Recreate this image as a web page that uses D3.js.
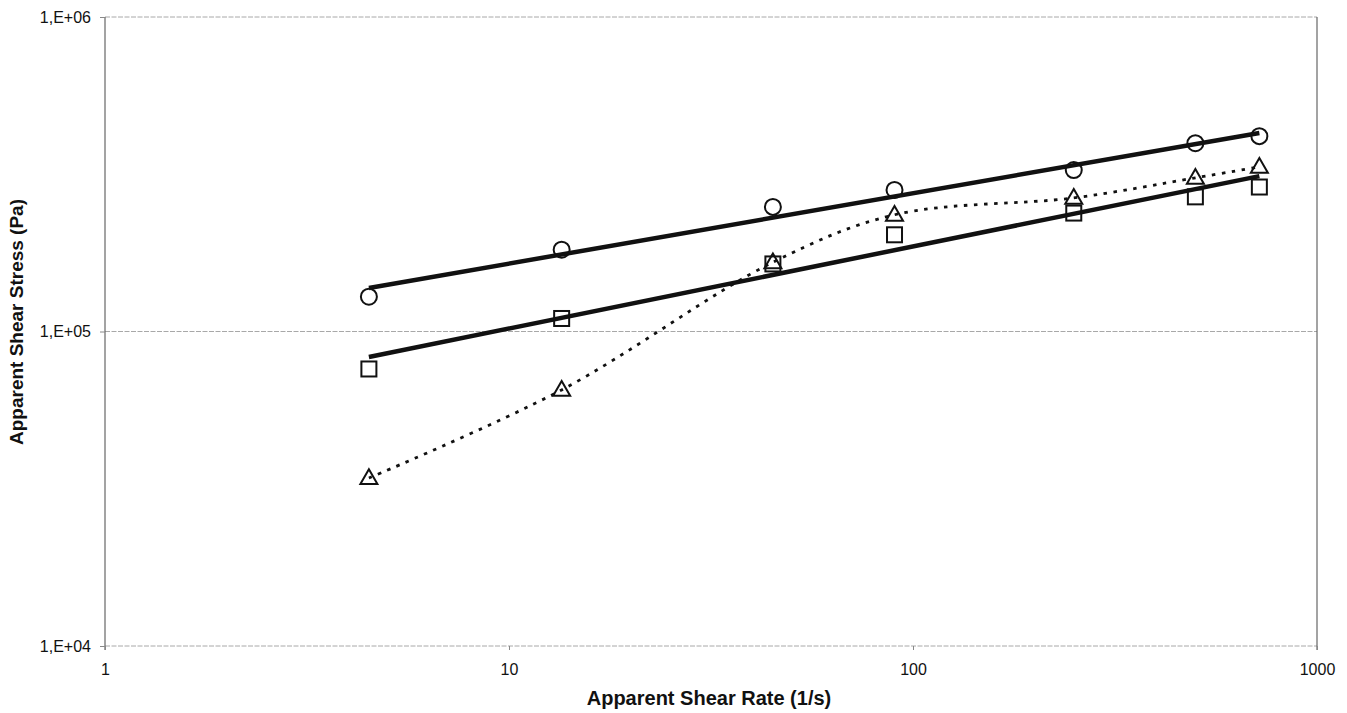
<!DOCTYPE html>
<html>
<head>
<meta charset="utf-8">
<script src="https://cdn.jsdelivr.net/npm/d3@7"></script>
<style>
  body { margin: 0; background: #fff; }
  svg { font-family: "Liberation Sans", Arial, sans-serif; }
</style>
</head>
<body>
<svg id="chart" width="1347" height="713"></svg>
<script>
// shear rates (1/s)
var shearRate = [4.5, 13.5, 45, 90, 250, 500, 720];
// measured stress (Pa), three samples
var circleStress = [129000, 182000, 249000, 282000, 326000, 397000, 418000];
var squareStress = [76000, 110000, 164000, 203000, 238000, 268000, 288000];
var triangleStress = [34200, 65200, 166000, 235000, 266000, 308000, 334000];
// power-law trend lines, read at first and last shear rate
var trendRate = [4.5, 720];
var circleTrend = [137500, 428000];
var squareTrend = [83000, 312000];

var xTicks = [1, 10, 100, 1000];
var yTicks = [1e4, 1e5, 1e6];
var yTickLabels = ["1,E+04", "1,E+05", "1,E+06"];

var svg = d3.select("#chart");
var plotLeft = 105, plotRight = 1317, plotTop = 17, plotBottom = 646;

var xScale = d3.scaleLog().domain([1, 1000]).range([plotLeft, plotRight]);
var yScale = d3.scaleLog().domain([1e4, 1e6]).range([plotBottom, plotTop]);

// gridlines
svg.append("g").selectAll("line").data(yTicks).enter().append("line")
    .attr("x1", plotLeft).attr("x2", plotRight)
    .attr("y1", d => yScale(d)).attr("y2", d => yScale(d))
    .attr("stroke", "#a8a8a8").attr("stroke-width", 1)
    .attr("stroke-dasharray", "5,1.5");

// plot sides
svg.append("line").attr("x1", plotLeft).attr("x2", plotLeft).attr("y1", plotTop).attr("y2", plotBottom + 4)
    .attr("stroke", "#666").attr("stroke-width", 1.2);
svg.append("line").attr("x1", plotRight).attr("x2", plotRight).attr("y1", plotTop).attr("y2", plotBottom + 4)
    .attr("stroke", "#666").attr("stroke-width", 1.2);

// axes
var xAxis = d3.axisBottom(xScale).tickValues(xTicks).tickFormat(d3.format("d")).tickSize(4).tickPadding(14);
var gx = svg.append("g").attr("transform", "translate(0," + plotBottom + ")").call(xAxis);
gx.select(".domain").remove();
gx.selectAll(".tick line").attr("stroke", "#888");
gx.selectAll("text").attr("font-size", 16).attr("fill", "#111").attr("font-family", "Liberation Sans, Arial, sans-serif");

var yAxis = d3.axisLeft(yScale).tickValues(yTicks).tickFormat((d, i) => yTickLabels[i]).tickSize(5).tickPadding(9);
var gy = svg.append("g").attr("transform", "translate(" + plotLeft + ",0)").call(yAxis);
gy.select(".domain").remove();
gy.selectAll(".tick line").attr("stroke", "#888");
gy.selectAll("text").attr("font-size", 16).attr("fill", "#111").attr("font-family", "Liberation Sans, Arial, sans-serif");

// titles
svg.append("text").attr("x", (plotLeft + plotRight) / 2 - 2).attr("y", 705)
    .attr("text-anchor", "middle").attr("font-size", 20).attr("font-weight", "bold")
    .attr("fill", "#111").text("Apparent Shear Rate (1/s)");
svg.append("text").attr("transform", "translate(23,322) rotate(-90)")
    .attr("text-anchor", "middle").attr("font-size", 19).attr("font-weight", "bold")
    .attr("fill", "#111").text("Apparent Shear Stress (Pa)");

var line = d3.line().x(d => xScale(d[0])).y(d => yScale(d[1]));

// trend lines
[circleTrend, squareTrend].forEach(function (t) {
    svg.append("path")
        .attr("d", line(trendRate.map((r, i) => [r, t[i]])))
        .attr("stroke", "#111").attr("stroke-width", 4.5).attr("fill", "none");
});

// smoothed dotted line through triangles
var smooth = d3.line().x(d => xScale(d[0])).y(d => yScale(d[1])).curve(d3.curveCatmullRom.alpha(0.5));
svg.append("path")
    .attr("d", smooth(shearRate.map((r, i) => [r, triangleStress[i]])))
    .attr("stroke", "#111").attr("stroke-width", 2.8).attr("fill", "none")
    .attr("stroke-dasharray", "3.5,6.5");

// markers
svg.append("g").selectAll("circle").data(shearRate).enter().append("circle")
    .attr("cx", d => xScale(d)).attr("cy", (d, i) => yScale(circleStress[i]))
    .attr("r", 8).attr("fill", "none").attr("stroke", "#111").attr("stroke-width", 2);

svg.append("g").selectAll("rect").data(shearRate).enter().append("rect")
    .attr("x", d => xScale(d) - 7.5).attr("y", (d, i) => yScale(squareStress[i]) - 7.5)
    .attr("width", 15).attr("height", 15)
    .attr("fill", "none").attr("stroke", "#111").attr("stroke-width", 2);

var tri = d3.symbol().type(d3.symbolTriangle).size(125);
svg.append("g").selectAll("path").data(shearRate).enter().append("path")
    .attr("transform", (d, i) => "translate(" + xScale(d) + "," + (yScale(triangleStress[i]) + 1) + ")")
    .attr("d", tri)
    .attr("fill", "none").attr("stroke", "#111").attr("stroke-width", 2);
</script>
</body>
</html>
